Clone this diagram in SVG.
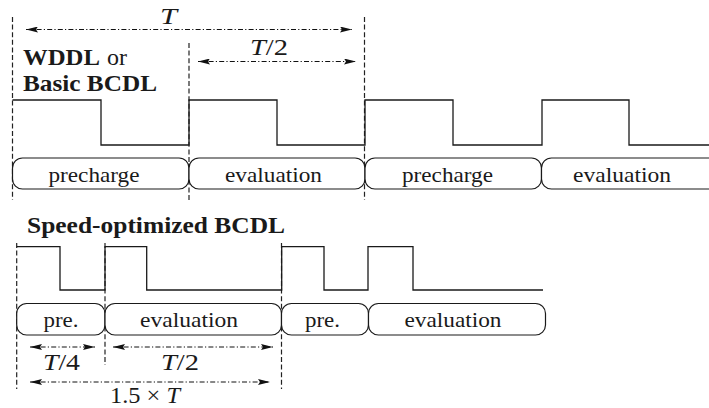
<svg xmlns="http://www.w3.org/2000/svg" width="709" height="408" viewBox="0 0 709 408">
<style>
.dash{stroke:#222;stroke-width:1.2;stroke-dasharray:5 2.6;fill:none}
.dd{stroke:#111;stroke-width:1;stroke-dasharray:5 2.2 1.2 2.2;fill:none;marker-start:url(#ah);marker-end:url(#ah)}
.wave{stroke:#1a1a1a;stroke-width:1.3;fill:none}
.box{stroke:#1a1a1a;stroke-width:1.2;fill:#fff}
text{font-family:'Liberation Serif','DejaVu Serif','Times New Roman',serif;fill:#1a1a1a}
.lbl{font-size:22px;text-anchor:middle}
.mth{font-size:23px;text-anchor:middle}
.ttl{font-size:22.5px;font-weight:bold}
.nrm{font-weight:normal}
.it{font-style:italic}
</style>
<defs>
<marker id="ah" viewBox="0 0 12 6" refX="12" refY="3" markerWidth="12" markerHeight="6" markerUnits="userSpaceOnUse" orient="auto-start-reverse">
<path d="M0,0 L12,3 L0,6 L2,3 z" fill="#111"/>
</marker>
</defs>

<g id="guides">
<line class="dash" x1="12.5" y1="17" x2="12.5" y2="200"/>
<line class="dash" x1="189" y1="43" x2="189" y2="202"/>
<line class="dash" x1="364.5" y1="17" x2="364.5" y2="200"/>
<line class="dash" x1="16.7" y1="243" x2="16.7" y2="389"/>
<line class="dash" x1="105" y1="243" x2="105" y2="365"/>
<line class="dash" x1="281.5" y1="243" x2="281.5" y2="389"/>
</g>

<g id="titles">
<text class="ttl" x="23" y="65"><tspan textLength="77" lengthAdjust="spacingAndGlyphs">WDDL</tspan><tspan class="nrm" x="107" textLength="20" lengthAdjust="spacingAndGlyphs">or</tspan></text>
<text class="ttl" x="23" y="91" textLength="134" lengthAdjust="spacingAndGlyphs">Basic BCDL</text>
<text class="ttl" x="27" y="233" textLength="258" lengthAdjust="spacingAndGlyphs">Speed-optimized BCDL</text>
</g>

<g id="waveforms">
<path class="wave" d="M12.5,100 H101 V145 H189 V100 H277 V145 H365 V100 H453 V145 H542 V100 H629 V145 H709"/>
<path class="wave" d="M16.7,246.7 H60 V290 H105 V246.7 H146.7 V290 H281.7 V246.7 H324 V290 H368 V246.7 H413 V290 H543"/>
</g>

<g id="top-precharge-1"><rect class="box" x="12.5" y="158" width="176.5" height="31" rx="10"/><text class="lbl" x="94" y="182" textLength="91" lengthAdjust="spacingAndGlyphs">precharge</text></g>
<g id="top-evaluation-1"><rect class="box" x="189" y="158" width="176" height="31" rx="10"/><text class="lbl" x="273.5" y="182" textLength="97" lengthAdjust="spacingAndGlyphs">evaluation</text></g>
<g id="top-precharge-2"><rect class="box" x="365" y="158" width="176.5" height="31" rx="10"/><text class="lbl" x="447.5" y="182" textLength="91" lengthAdjust="spacingAndGlyphs">precharge</text></g>
<g id="top-evaluation-2"><rect class="box" x="541.5" y="158" width="185" height="31" rx="10"/><text class="lbl" x="622" y="182" textLength="98" lengthAdjust="spacingAndGlyphs">evaluation</text></g>

<g id="bot-pre-1"><rect class="box" x="16.7" y="303.5" width="88.3" height="31.5" rx="10"/><text class="lbl" x="61" y="327" textLength="35" lengthAdjust="spacingAndGlyphs">pre.</text></g>
<g id="bot-evaluation-1"><rect class="box" x="105" y="303.5" width="176.5" height="31.5" rx="10"/><text class="lbl" x="189" y="327" textLength="98" lengthAdjust="spacingAndGlyphs">evaluation</text></g>
<g id="bot-pre-2"><rect class="box" x="281.5" y="303.5" width="87" height="31.5" rx="10"/><text class="lbl" x="322.5" y="327" textLength="35" lengthAdjust="spacingAndGlyphs">pre.</text></g>
<g id="bot-evaluation-2"><rect class="box" x="368.5" y="303.5" width="177" height="31.5" rx="10"/><text class="lbl" x="453" y="327" textLength="97" lengthAdjust="spacingAndGlyphs">evaluation</text></g>

<g id="connectors">
<line class="dd" x1="26" y1="29.5" x2="352" y2="29.5"/>
<line class="dd" x1="198" y1="61.5" x2="356" y2="61.5"/>
<line class="dd" x1="30" y1="347" x2="95" y2="347"/>
<line class="dd" x1="113" y1="347" x2="273" y2="347"/>
<line class="dd" x1="30" y1="382" x2="270" y2="382"/>
</g>

<g id="dim-labels">
<text class="mth" x="168.5" y="24" textLength="17" lengthAdjust="spacingAndGlyphs"><tspan class="it">T</tspan></text>
<text class="mth" x="269" y="55" textLength="38" lengthAdjust="spacingAndGlyphs"><tspan class="it">T</tspan>/2</text>
<text class="mth" x="61.5" y="370" textLength="37" lengthAdjust="spacingAndGlyphs"><tspan class="it">T</tspan>/4</text>
<text class="mth" x="180" y="370" textLength="38" lengthAdjust="spacingAndGlyphs"><tspan class="it">T</tspan>/2</text>
<text class="mth" x="145" y="403" textLength="70" lengthAdjust="spacingAndGlyphs">1.5 × <tspan class="it">T</tspan></text>
</g>
</svg>
